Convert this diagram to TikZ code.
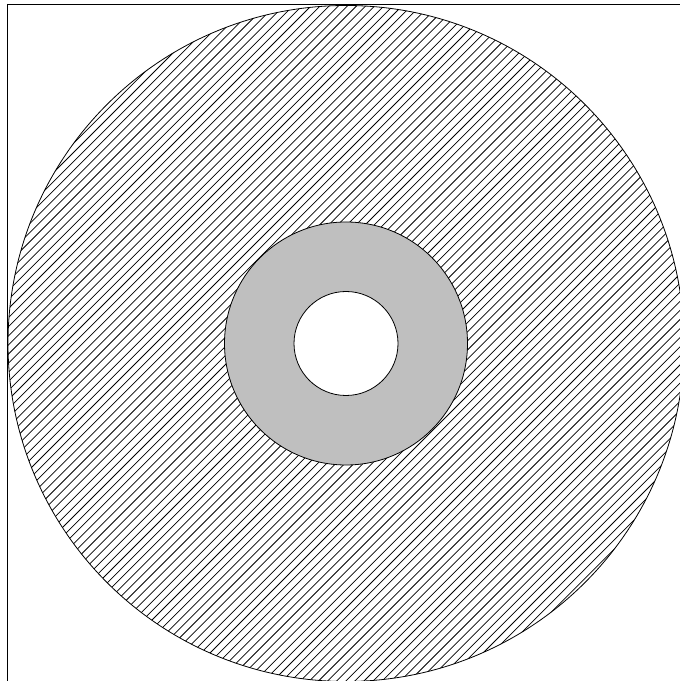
\documentclass[tikz,border=0pt]{standalone}
\begin{document}
\begin{tikzpicture}[x=0.75pt,y=0.75pt,
  outline/.style={draw=black,line width=0.6pt},
  hatchline/.style={draw=black,line width=0.55pt}]
\useasboundingbox (0,0) rectangle (680,681);
\coordinate (c) at (346,337.5);
% hatched disc
\begin{scope}
  \clip (c) circle (338);
  \foreach \k in {-85,...,85}{
    \draw[hatchline] ({\k*9.1-10},-10) -- ({\k*9.1+700},700);
  }
\end{scope}
\draw[outline] (c) circle (338);
% grey ring
\fill[gray!50] (c) circle (121.5);
\draw[outline] (c) circle (121.5);
% white hole
\fill[white] (c) circle (52);
\draw[outline] (c) circle (52);
% frame lines
\coordinate (tl) at (7,677);
\draw[outline] (tl) -- (680,677);
\draw[outline] (tl) -- (7,0);
\end{tikzpicture}
\end{document}
